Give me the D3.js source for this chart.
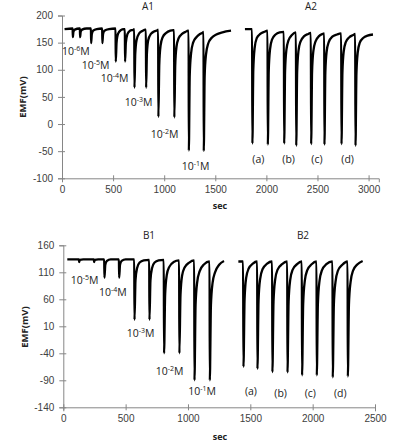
<!DOCTYPE html>
<html><head><meta charset="utf-8">
<script src="https://cdn.jsdelivr.net/npm/d3@7"></script>
<style>
body{margin:0;background:#fff;}
svg{display:block;font-family:"Open Sans",sans-serif;}
</style></head>
<body>
<script>
// ---------- DATA ----------
// Panel A (x: sec, y: EMF mV)
const aXTicks = [0, 500, 1000, 1500, 2000, 2500, 3000];
const aYTicks = [-100, -50, 0, 50, 100, 150, 200];
const a1Series = [[25,175],[104,176],[106,160],[112,170],[125,174],[170,176],
 [175,176],[177,160],[183,170],[196,174],[240,176],
 [283,176],[285,149],[292,166],[305,172],[340,175],
 [393,176],[395,149],[402,166],[415,172],[460,175],
 [524,176],[526,115],[534,150],[548,166],[575,173],[605,175],
 [615,175],[617,115],[625,150],[639,165],[665,172],[700,174],
 [707,175],[709,67],[717,130],[730,155],[755,167],[790,172],[815,174],
 [821,174],[823,67],[831,130],[844,155],[870,166],[905,171],[935,173],
 [941,174],[943,13],[952,110],[965,145],[985,160],[1020,168],[1060,172],[1090,173],
 [1097,173],[1099,12],[1108,108],[1121,143],[1141,158],[1175,166],[1210,170],[1233,172],
 [1239,172],[1241,-49],[1250,90],[1263,130],[1283,150],[1315,160],[1350,166],[1380,169],
 [1385,170],[1387,-50],[1396,88],[1409,128],[1430,148],[1465,159],[1510,165],[1570,169],[1654,172]];
const a2Series = [[1790,175],[1860,175],[1863,-36],[1872,100],[1885,140],[1905,158],[1940,166],[1980,170],[2010,172],
 [2011,172],[2014,-38],[2023,98],[2036,138],[2056,156],[2090,165],[2130,169],[2170,170],
 [2171,170],[2174,-36],[2183,98],[2196,137],[2216,154],[2250,164],[2288,169],
 [2289,169],[2292,-40],[2301,95],[2314,135],[2334,152],[2370,162],[2410,166],[2434,168],
 [2435,168],[2438,-37],[2447,96],[2460,135],[2480,152],[2515,162],[2550,166],[2565,167],
 [2566,167],[2568,-38],[2577,95],[2590,134],[2610,151],[2645,161],[2690,165],[2731,167],
 [2732,167],[2735,-37],[2744,95],[2757,134],[2777,151],[2812,160],[2850,164],[2868,166],
 [2869,166],[2872,-40],[2881,92],[2894,132],[2914,150],[2950,159],[2990,163],[3043,165]];
// concentration labels in panel A1 (anchor at sec, mV)
const a1LabelExp = ["-6","-5","-4","-3","-2","-1"];
const a1LabelSec = [0, 193, 379, 613, 868, 1171];
const a1LabelMv  = [127, 102, 77, 34, -25, -85];
const a2LabelText = ["(a)","(b)","(c)","(d)"];
const a2LabelSec  = [1921, 2218, 2495, 2795];
const a2LabelMv   = [-72, -72, -72, -72];

// Panel B
const bXTicks = [0, 500, 1000, 1500, 2000, 2500];
const bYTicks = [-140, -90, -40, 10, 60, 110, 160];
const b1Series = [[32,134],[125,134],[127,129],[132,133],[160,134],
 [245,134],[247,129],[252,133],[280,134],
 [328,134],[330,100],[337,124],[350,131],[380,134],
 [446,134],[448,100],[455,124],[468,131],[500,134],
 [569,134],[571,22],[579,95],[592,118],[612,128],[645,132],[688,133],
 [689,133],[691,22],[699,95],[712,118],[732,128],[765,132],[805,133],
 [806,133],[808,-40],[817,70],[830,105],[850,120],[885,129],[928,132],
 [929,132],[931,-40],[940,68],[953,104],[973,119],[1010,128],[1049,132],
 [1050,132],[1052,-90],[1061,50],[1074,92],[1094,112],[1130,125],[1172,130],
 [1173,130],[1175,-90],[1184,48],[1197,90],[1217,110],[1250,124],[1289,131]];
const b2Series = [[1404,130],[1442,130],[1445,-65],[1454,60],[1467,100],[1487,117],[1520,126],[1554,130],
 [1555,130],[1557,-69],[1566,58],[1579,98],[1599,116],[1635,126],[1674,130],
 [1675,130],[1677,-75],[1686,55],[1699,96],[1719,115],[1755,125],[1795,130],
 [1796,130],[1798,-75.5],[1807,55],[1820,96],[1840,115],[1875,125],[1912,130],
 [1913,130],[1915,-80.7],[1924,52],[1937,94],[1957,114],[1992,125],[2030,130],
 [2031,130],[2033,-80.7],[2042,52],[2055,94],[2075,114],[2110,125],[2158,130],
 [2159,130],[2161,-84.4],[2170,50],[2183,92],[2203,113],[2238,124],[2279,130],
 [2280,130],[2282,-83],[2291,50],[2304,92],[2324,113],[2360,125],[2401,131]];
const b1LabelExp = ["-5","-4","-3","-2","-1"];
const b1LabelSec = [59, 286, 508, 741, 1002];
const b1LabelMv  = [89, 66, -9, -80, -118];
const b2LabelText = ["(a)","(b)","(c)","(d)"];
const b2LabelSec  = [1505, 1743, 1981, 2221];
const b2LabelMv   = [-118, -120, -121, -121];

// ---------- DRAW ----------
const W = 418, H = 447;
const svg = d3.select("body").append("svg").attr("width", W).attr("height", H);

const axisColor = "#868686", textColor = "#404040";

function panel(cfg) {
  const x = d3.scaleLinear().domain(cfg.xDomain).range(cfg.xRange);
  const y = d3.scaleLinear().domain(cfg.yDomain).range(cfg.yRange);
  const g = svg.append("g");
  const fmt = d => String(d);

  // y axis
  const yAx = g.append("g").attr("transform", `translate(${cfg.xRange[0]},0)`)
    .call(d3.axisLeft(y).tickValues(cfg.yTicks).tickFormat(fmt).tickSize(4).tickPadding(5));
  yAx.select(".domain").attr("stroke", axisColor);
  yAx.selectAll(".tick line").attr("stroke", axisColor).attr("x2", 3).attr("x1", -4);
  yAx.selectAll(".tick text").attr("fill", textColor).style("font-size", "10px").attr("x", -9);

  // x axis
  const xAx = g.append("g").attr("transform", `translate(0,${cfg.yRange[0]})`)
    .call(d3.axisBottom(x).tickValues(cfg.xTicks).tickFormat(fmt).tickSize(4).tickPadding(5));
  xAx.select(".domain").attr("stroke", axisColor);
  xAx.selectAll(".tick line").attr("stroke", axisColor).attr("y1", -3).attr("y2", 3);
  xAx.selectAll(".tick text").attr("fill", textColor).style("font-size", "10px").attr("y", 8);

  const line = d3.line().x(d => x(d[0])).y(d => y(d[1])).curve(d3.curveMonotoneX);
  cfg.series.forEach(s => {
    g.append("path").datum(s).attr("d", line)
      .attr("fill", "none").attr("stroke", "#000").attr("stroke-width", 2.3)
      .attr("stroke-linejoin", "round").attr("stroke-linecap", "butt");
  });

  // concentration labels
  cfg.concExp.forEach((e, i) => {
    const t = g.append("text").attr("x", x(cfg.concSec[i])).attr("y", y(cfg.concMv[i]))
      .attr("fill", "#222").style("font-size", "10.5px");
    t.append("tspan").text("10");
    t.append("tspan").text(e).style("font-size", "7px").attr("dy", -4);
    t.append("tspan").text("M").attr("dy", 4);
  });
  cfg.letterText.forEach((s, i) => {
    g.append("text").attr("x", x(cfg.letterSec[i])).attr("y", y(cfg.letterMv[i]))
      .attr("text-anchor", "middle").attr("fill", "#222").style("font-size", "10.5px").text(s);
  });

  // titles
  cfg.titles.forEach(tt => {
    g.append("text").attr("x", tt.x).attr("y", tt.y).attr("text-anchor", "middle")
      .attr("fill", "#222").style("font-size", "10px").text(tt.t);
  });
  g.append("text").attr("x", cfg.secPos[0]).attr("y", cfg.secPos[1]).attr("text-anchor", "middle")
    .attr("fill", "#222").style("font-size", "9px").style("font-weight", "bold").text("sec");
  g.append("text").attr("transform", `translate(${cfg.emfPos[0]},${cfg.emfPos[1]}) rotate(-90)`)
    .attr("text-anchor", "middle").attr("fill", "#222").style("font-size", "9.5px")
    .style("font-weight", "bold").text("EMF(mV)");
}

panel({
  xDomain: [0, 3100], xRange: [62, 378.8],
  yDomain: [-100, 200], yRange: [178.3, 15.5],
  xTicks: aXTicks, yTicks: aYTicks,
  series: [a1Series, a2Series],
  concExp: a1LabelExp, concSec: a1LabelSec, concMv: a1LabelMv,
  letterText: a2LabelText, letterSec: a2LabelSec, letterMv: a2LabelMv,
  titles: [{t:"A1", x:148, y:10}, {t:"A2", x:311, y:10}],
  secPos: [220, 209], emfPos: [26, 97]
});

panel({
  xDomain: [0, 2500], xRange: [63.3, 375],
  yDomain: [-140, 160], yRange: [407.3, 245.3],
  xTicks: bXTicks, yTicks: bYTicks,
  series: [b1Series, b2Series],
  concExp: b1LabelExp, concSec: b1LabelSec, concMv: b1LabelMv,
  letterText: b2LabelText, letterSec: b2LabelSec, letterMv: b2LabelMv,
  titles: [{t:"B1", x:149, y:239}, {t:"B2", x:303, y:239}],
  secPos: [220, 440], emfPos: [28, 327]
});
</script>
</body></html>
